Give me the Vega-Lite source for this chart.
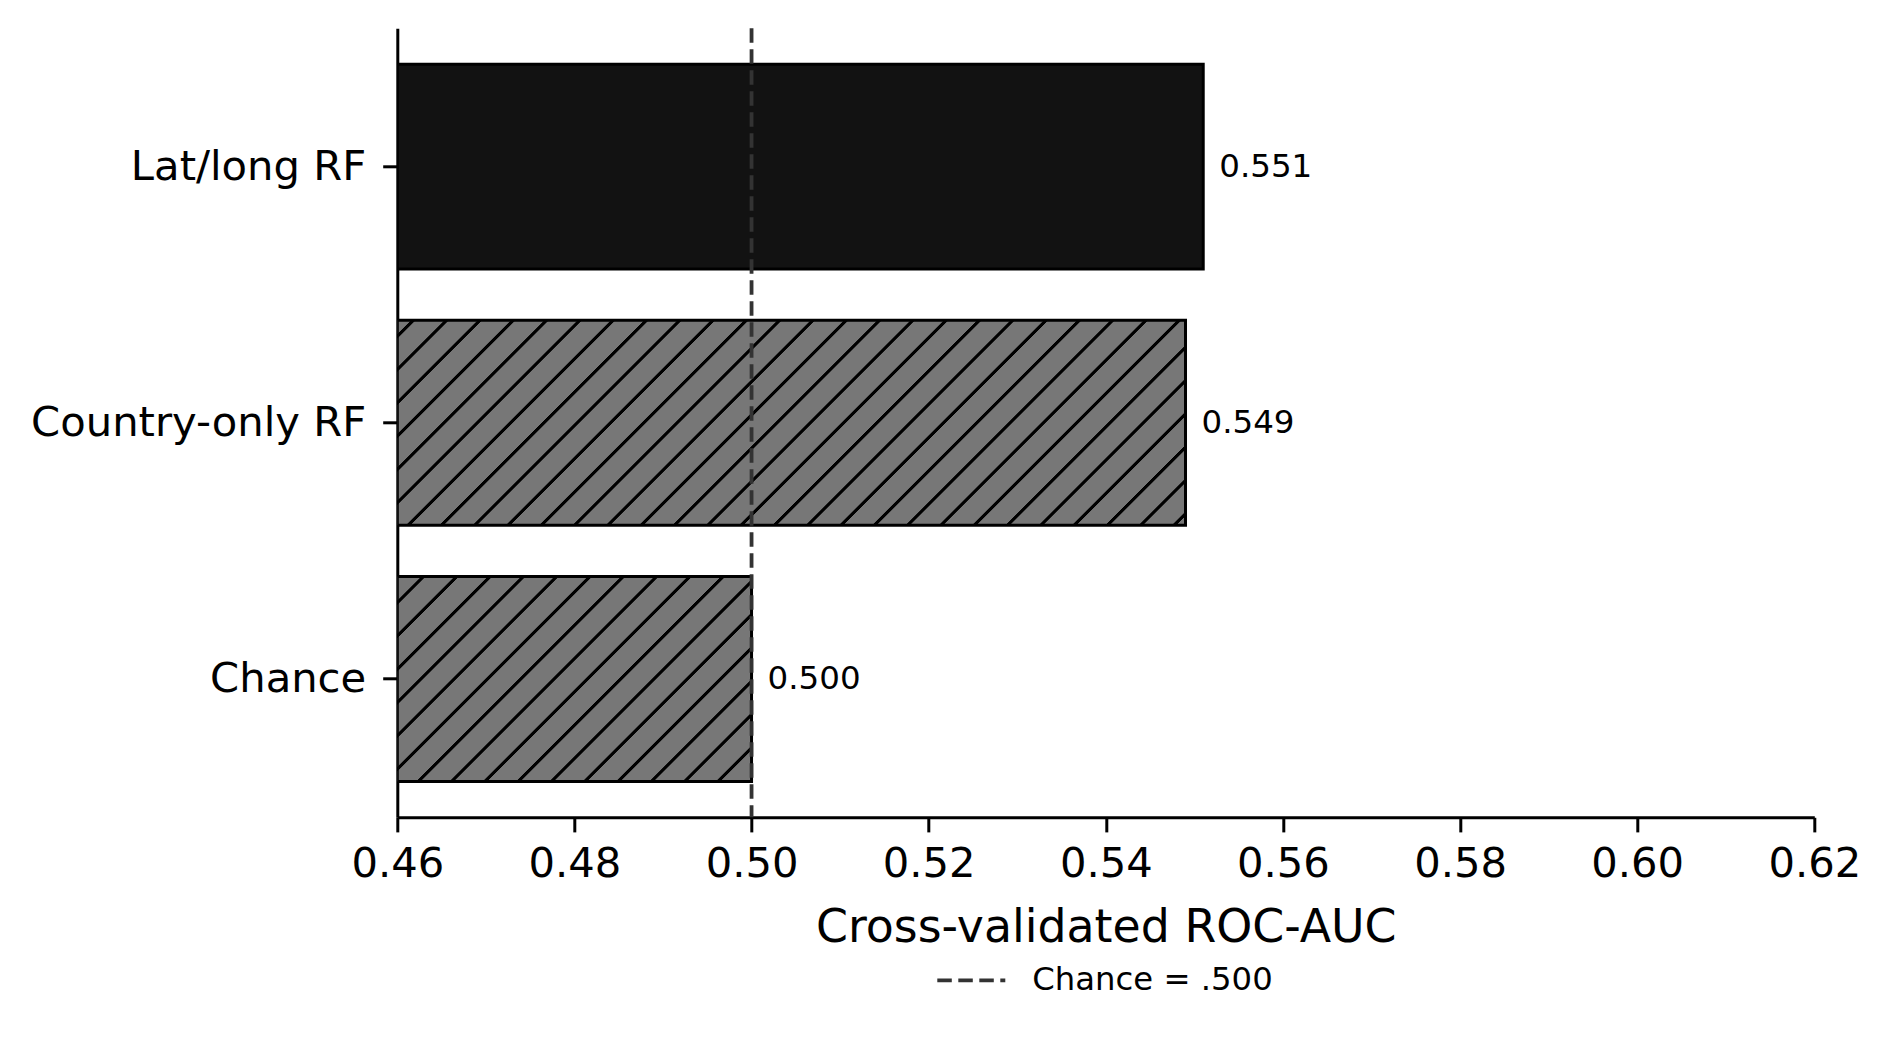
{
  "$schema": "https://vega.github.io/schema/vega-lite/v6.json",
  "width": 1417,
  "height": 789,
  "autosize": {"type": "none"},
  "padding": {"left": 397.3, "top": 28.3, "right": 75.7, "bottom": 224.7},
  "background": "white",
  "data": {
    "values": [
      {"model": "Lat/long RF", "auc": 0.551},
      {"model": "Country-only RF", "auc": 0.549},
      {"model": "Chance", "auc": 0.5}
    ]
  },
  "encoding": {
    "y": {
      "field": "model",
      "type": "nominal",
      "sort": null,
      "scale": {"domain": ["Lat/long RF", "Country-only RF", "Chance"], "paddingInner": 0.2, "paddingOuter": 0.14},
      "axis": {"title": null, "labelPadding": 17, "labelLimit": 1000}
    },
    "x": {
      "field": "auc",
      "type": "quantitative",
      "scale": {"domain": [0.46, 0.62], "zero": false, "nice": false},
      "axis": {
        "title": "Cross-validated ROC-AUC",
        "values": [0.46, 0.48, 0.5, 0.52, 0.54, 0.56, 0.58, 0.6, 0.62],
        "format": ".2f",
        "labelFlush": false,
        "labelOverlap": false,
        "labelPadding": 12,
        "titlePadding": 20
      }
    }
  },
  "layer": [
    {
      "transform": [{"filter": "datum.model === 'Lat/long RF'"}],
      "mark": {"type": "bar", "fill": "#121212", "stroke": "#000000", "strokeWidth": 3, "clip": true},
      "encoding": {"x2": {"datum": 0.46}}
    },
    {
      "transform": [{"filter": "datum.model === 'Country-only RF'"}],
      "mark": {
        "type": "bar",
        "stroke": "#000000",
        "strokeWidth": 3,
        "clip": true,
        "fill": {
          "gradient": "linear",
          "x1": 0, "y1": 0, "x2": 1.18833, "y2": 0.30907,
          "stops": [
            {"offset": 0, "color": "#777777"},
            {"offset": 0.0133, "color": "#777777"}, {"offset": 0.0143, "color": "#000000"}, {"offset": 0.0177, "color": "#000000"}, {"offset": 0.0187, "color": "#777777"},
            {"offset": 0.0466, "color": "#777777"}, {"offset": 0.0476, "color": "#000000"}, {"offset": 0.0510, "color": "#000000"}, {"offset": 0.0520, "color": "#777777"},
            {"offset": 0.0799, "color": "#777777"}, {"offset": 0.0809, "color": "#000000"}, {"offset": 0.0843, "color": "#000000"}, {"offset": 0.0853, "color": "#777777"},
            {"offset": 0.1132, "color": "#777777"}, {"offset": 0.1142, "color": "#000000"}, {"offset": 0.1176, "color": "#000000"}, {"offset": 0.1186, "color": "#777777"},
            {"offset": 0.1465, "color": "#777777"}, {"offset": 0.1475, "color": "#000000"}, {"offset": 0.1509, "color": "#000000"}, {"offset": 0.1519, "color": "#777777"},
            {"offset": 0.1798, "color": "#777777"}, {"offset": 0.1808, "color": "#000000"}, {"offset": 0.1842, "color": "#000000"}, {"offset": 0.1852, "color": "#777777"},
            {"offset": 0.2131, "color": "#777777"}, {"offset": 0.2141, "color": "#000000"}, {"offset": 0.2175, "color": "#000000"}, {"offset": 0.2185, "color": "#777777"},
            {"offset": 0.2464, "color": "#777777"}, {"offset": 0.2474, "color": "#000000"}, {"offset": 0.2508, "color": "#000000"}, {"offset": 0.2518, "color": "#777777"},
            {"offset": 0.2797, "color": "#777777"}, {"offset": 0.2807, "color": "#000000"}, {"offset": 0.2841, "color": "#000000"}, {"offset": 0.2851, "color": "#777777"},
            {"offset": 0.3130, "color": "#777777"}, {"offset": 0.3140, "color": "#000000"}, {"offset": 0.3174, "color": "#000000"}, {"offset": 0.3184, "color": "#777777"},
            {"offset": 0.3463, "color": "#777777"}, {"offset": 0.3473, "color": "#000000"}, {"offset": 0.3507, "color": "#000000"}, {"offset": 0.3517, "color": "#777777"},
            {"offset": 0.3796, "color": "#777777"}, {"offset": 0.3806, "color": "#000000"}, {"offset": 0.3840, "color": "#000000"}, {"offset": 0.3850, "color": "#777777"},
            {"offset": 0.4129, "color": "#777777"}, {"offset": 0.4139, "color": "#000000"}, {"offset": 0.4173, "color": "#000000"}, {"offset": 0.4183, "color": "#777777"},
            {"offset": 0.4462, "color": "#777777"}, {"offset": 0.4472, "color": "#000000"}, {"offset": 0.4506, "color": "#000000"}, {"offset": 0.4516, "color": "#777777"},
            {"offset": 0.4795, "color": "#777777"}, {"offset": 0.4805, "color": "#000000"}, {"offset": 0.4839, "color": "#000000"}, {"offset": 0.4849, "color": "#777777"},
            {"offset": 0.5128, "color": "#777777"}, {"offset": 0.5138, "color": "#000000"}, {"offset": 0.5172, "color": "#000000"}, {"offset": 0.5182, "color": "#777777"},
            {"offset": 0.5461, "color": "#777777"}, {"offset": 0.5471, "color": "#000000"}, {"offset": 0.5505, "color": "#000000"}, {"offset": 0.5515, "color": "#777777"},
            {"offset": 0.5794, "color": "#777777"}, {"offset": 0.5804, "color": "#000000"}, {"offset": 0.5838, "color": "#000000"}, {"offset": 0.5848, "color": "#777777"},
            {"offset": 0.6127, "color": "#777777"}, {"offset": 0.6137, "color": "#000000"}, {"offset": 0.6171, "color": "#000000"}, {"offset": 0.6181, "color": "#777777"},
            {"offset": 0.6460, "color": "#777777"}, {"offset": 0.6470, "color": "#000000"}, {"offset": 0.6504, "color": "#000000"}, {"offset": 0.6514, "color": "#777777"},
            {"offset": 0.6793, "color": "#777777"}, {"offset": 0.6803, "color": "#000000"}, {"offset": 0.6837, "color": "#000000"}, {"offset": 0.6847, "color": "#777777"},
            {"offset": 0.7126, "color": "#777777"}, {"offset": 0.7136, "color": "#000000"}, {"offset": 0.7170, "color": "#000000"}, {"offset": 0.7180, "color": "#777777"},
            {"offset": 0.7459, "color": "#777777"}, {"offset": 0.7469, "color": "#000000"}, {"offset": 0.7503, "color": "#000000"}, {"offset": 0.7513, "color": "#777777"},
            {"offset": 0.7792, "color": "#777777"}, {"offset": 0.7802, "color": "#000000"}, {"offset": 0.7836, "color": "#000000"}, {"offset": 0.7846, "color": "#777777"},
            {"offset": 0.8125, "color": "#777777"}, {"offset": 0.8135, "color": "#000000"}, {"offset": 0.8169, "color": "#000000"}, {"offset": 0.8179, "color": "#777777"},
            {"offset": 0.8458, "color": "#777777"}, {"offset": 0.8468, "color": "#000000"}, {"offset": 0.8502, "color": "#000000"}, {"offset": 0.8512, "color": "#777777"},
            {"offset": 0.8791, "color": "#777777"}, {"offset": 0.8801, "color": "#000000"}, {"offset": 0.8835, "color": "#000000"}, {"offset": 0.8845, "color": "#777777"},
            {"offset": 0.9124, "color": "#777777"}, {"offset": 0.9134, "color": "#000000"}, {"offset": 0.9168, "color": "#000000"}, {"offset": 0.9178, "color": "#777777"},
            {"offset": 0.9457, "color": "#777777"}, {"offset": 0.9467, "color": "#000000"}, {"offset": 0.9501, "color": "#000000"}, {"offset": 0.9511, "color": "#777777"},
            {"offset": 0.9790, "color": "#777777"}, {"offset": 0.9800, "color": "#000000"}, {"offset": 0.9834, "color": "#000000"}, {"offset": 0.9844, "color": "#777777"},
            {"offset": 1, "color": "#777777"}
          ]
        }
      },
      "encoding": {"x2": {"datum": 0.46}}
    },
    {
      "transform": [{"filter": "datum.model === 'Chance'"}],
      "mark": {
        "type": "bar",
        "stroke": "#000000",
        "strokeWidth": 3,
        "clip": true,
        "fill": {
          "gradient": "linear",
          "x1": 0, "y1": 0, "x2": 2.1147, "y2": 1.22375,
          "stops": [
            {"offset": 0, "color": "#777777"},
            {"offset": 0.0235, "color": "#777777"}, {"offset": 0.0245, "color": "#000000"}, {"offset": 0.0279, "color": "#000000"}, {"offset": 0.0289, "color": "#777777"},
            {"offset": 0.0568, "color": "#777777"}, {"offset": 0.0578, "color": "#000000"}, {"offset": 0.0612, "color": "#000000"}, {"offset": 0.0622, "color": "#777777"},
            {"offset": 0.0901, "color": "#777777"}, {"offset": 0.0911, "color": "#000000"}, {"offset": 0.0945, "color": "#000000"}, {"offset": 0.0955, "color": "#777777"},
            {"offset": 0.1234, "color": "#777777"}, {"offset": 0.1244, "color": "#000000"}, {"offset": 0.1278, "color": "#000000"}, {"offset": 0.1288, "color": "#777777"},
            {"offset": 0.1567, "color": "#777777"}, {"offset": 0.1577, "color": "#000000"}, {"offset": 0.1611, "color": "#000000"}, {"offset": 0.1621, "color": "#777777"},
            {"offset": 0.1900, "color": "#777777"}, {"offset": 0.1910, "color": "#000000"}, {"offset": 0.1944, "color": "#000000"}, {"offset": 0.1954, "color": "#777777"},
            {"offset": 0.2233, "color": "#777777"}, {"offset": 0.2243, "color": "#000000"}, {"offset": 0.2277, "color": "#000000"}, {"offset": 0.2287, "color": "#777777"},
            {"offset": 0.2566, "color": "#777777"}, {"offset": 0.2576, "color": "#000000"}, {"offset": 0.2610, "color": "#000000"}, {"offset": 0.2620, "color": "#777777"},
            {"offset": 0.2899, "color": "#777777"}, {"offset": 0.2909, "color": "#000000"}, {"offset": 0.2943, "color": "#000000"}, {"offset": 0.2953, "color": "#777777"},
            {"offset": 0.3232, "color": "#777777"}, {"offset": 0.3242, "color": "#000000"}, {"offset": 0.3276, "color": "#000000"}, {"offset": 0.3286, "color": "#777777"},
            {"offset": 0.3565, "color": "#777777"}, {"offset": 0.3575, "color": "#000000"}, {"offset": 0.3609, "color": "#000000"}, {"offset": 0.3619, "color": "#777777"},
            {"offset": 0.3898, "color": "#777777"}, {"offset": 0.3908, "color": "#000000"}, {"offset": 0.3942, "color": "#000000"}, {"offset": 0.3952, "color": "#777777"},
            {"offset": 0.4231, "color": "#777777"}, {"offset": 0.4241, "color": "#000000"}, {"offset": 0.4275, "color": "#000000"}, {"offset": 0.4285, "color": "#777777"},
            {"offset": 0.4564, "color": "#777777"}, {"offset": 0.4574, "color": "#000000"}, {"offset": 0.4608, "color": "#000000"}, {"offset": 0.4618, "color": "#777777"},
            {"offset": 0.4897, "color": "#777777"}, {"offset": 0.4907, "color": "#000000"}, {"offset": 0.4941, "color": "#000000"}, {"offset": 0.4951, "color": "#777777"},
            {"offset": 0.5230, "color": "#777777"}, {"offset": 0.5240, "color": "#000000"}, {"offset": 0.5274, "color": "#000000"}, {"offset": 0.5284, "color": "#777777"},
            {"offset": 0.5563, "color": "#777777"}, {"offset": 0.5573, "color": "#000000"}, {"offset": 0.5607, "color": "#000000"}, {"offset": 0.5617, "color": "#777777"},
            {"offset": 1, "color": "#777777"}
          ]
        }
      },
      "encoding": {"x2": {"datum": 0.46}}
    },
    {
      "data": {"values": [{"chance": 0.5, "label": "Chance = .500"}]},
      "mark": {"type": "rule", "strokeWidth": 3.8, "strokeDash": [14.5, 6.5]},
      "encoding": {
        "x": {"field": "chance", "type": "quantitative"},
        "y": null,
        "stroke": {
          "field": "label",
          "type": "nominal",
          "scale": {"range": ["#333333"]},
          "legend": {
            "orient": "none",
            "legendX": 538,
            "legendY": 916,
            "title": null,
            "padding": 0,
            "symbolType": "stroke",
            "symbolSize": 4624,
            "symbolStrokeWidth": 3.8,
            "symbolDash": [14.5, 6.5],
            "labelFontSize": 32.3,
            "labelLimit": 1000,
            "labelColor": "#000000",
            "labelOffset": 25
          }
        }
      }
    },
    {
      "mark": {"type": "text", "align": "left", "baseline": "middle", "dx": 16, "fontSize": 32.5, "color": "#000000"},
      "encoding": {"text": {"field": "auc", "type": "quantitative", "format": ".3f"}}
    }
  ],
  "config": {
    "font": "DejaVu Sans",
    "view": {"stroke": null},
    "axis": {
      "grid": false,
      "domainColor": "#000000",
      "domainWidth": 3,
      "tickColor": "#000000",
      "tickWidth": 3,
      "tickSize": 14.6,
      "labelColor": "#000000",
      "labelFontSize": 41.7,
      "titleColor": "#000000",
      "titleFontSize": 45.8,
      "titleFontWeight": "normal"
    }
  }
}
